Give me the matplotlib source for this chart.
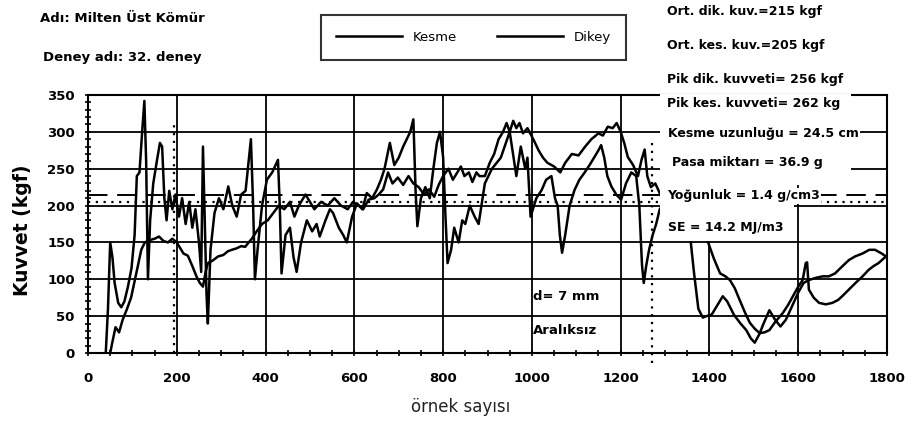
import numpy as np
import matplotlib
matplotlib.use("Agg")
import matplotlib.pyplot as plt
from matplotlib.patches import Rectangle
from matplotlib.lines import Line2D
from matplotlib.ticker import MultipleLocator

plt.rcParams["font.family"] = ["DejaVu Sans"]

# --- data ----------------------------------------------------------------
KESME_X = [40, 45, 50, 55, 60, 68, 75, 82, 90, 98, 105, 110, 116, 122, 127, 131, 135, 140,
           147, 155, 162, 167, 172, 177, 183, 190, 197, 205, 212, 220, 228, 235, 242, 250,
           255, 259, 263, 267, 270, 276, 285, 295, 305, 316, 325, 335, 345, 355, 362, 367,
           372, 376, 382, 392, 403, 415, 428, 432, 436, 445, 455, 463, 470, 480, 493, 505,
           515, 522, 535, 545, 552, 565, 575, 583, 595, 606, 618, 628, 640, 651, 660, 668,
           675, 680, 690, 700, 710, 718, 726, 733, 738, 742, 750, 760, 770, 778, 786, 793,
           800, 805, 810, 818, 825, 835, 843, 850, 860, 871, 880, 894, 910, 930, 950, 965,
           975, 985, 990, 997, 1010, 1022, 1032, 1044, 1052, 1058, 1063, 1068, 1075, 1085,
           1096, 1107, 1119, 1130, 1141, 1150, 1156, 1163, 1170, 1179, 1190, 1201, 1212,
           1224, 1235, 1242, 1248, 1252, 1258, 1264, 1272, 1280, 1288, 1300, 1320, 1340,
           1352, 1358, 1365, 1375, 1385, 1393, 1405, 1418, 1430, 1440, 1455, 1470, 1483,
           1493, 1502, 1512, 1522, 1535, 1548, 1560, 1572, 1585, 1600, 1612, 1624, 1640,
           1655, 1669, 1683, 1700, 1714, 1728, 1745, 1760, 1773, 1788, 1800]
KESME_Y = [0, 60, 150, 130, 95, 68, 62, 70, 90, 115, 160, 240, 245, 300, 342, 260, 100, 180,
           230, 260, 285, 280, 210, 180, 220, 195, 215, 185, 210, 175, 205, 170, 195, 150,
           110, 280, 180, 80, 40, 140, 190, 210, 195, 226, 200, 185, 215, 220, 260, 290,
           200, 100, 140, 200, 235, 245, 262, 200, 108, 160, 170, 130, 110, 150, 180, 165,
           175, 158, 180, 195, 190, 170, 160, 150, 185, 203, 195, 217, 210, 222, 235, 250,
           270, 285, 255, 265, 280, 290, 300, 317, 220, 172, 210, 225, 210, 250, 285, 300,
           266, 190, 122, 140, 170, 150, 180, 175, 200, 185, 175, 230, 250, 265, 300, 240,
           280, 250, 265, 185, 210, 221, 235, 240, 210, 200, 160, 136, 160, 200,
           221, 235, 245, 255, 266, 275, 282, 265, 240, 226, 215, 208, 230,
           245, 240, 200, 120, 95, 120, 140, 160, 175, 195, 205, 200, 185,
           165, 150, 110, 60, 48, 50, 52, 65, 77, 70, 52, 40, 31,
           20, 14, 25, 40, 58, 45, 36, 45, 62, 82, 95, 99, 102,
           104, 104, 108, 118, 126, 131, 135, 140, 140, 135, 130]

DIKEY_X = [50, 55, 62, 70, 78, 88, 97, 106, 113, 120, 128, 138, 150, 160, 170, 180, 190, 200,
           206, 215, 225, 235, 245, 252, 259, 265, 270, 280, 293, 305, 315, 324, 335, 345,
           354, 362, 369, 380, 392, 405, 420, 430, 442, 455, 465, 475, 490, 500, 510, 525,
           540, 555, 570, 585, 597, 610, 620, 632, 645, 655, 665, 676, 686, 698, 710, 722,
           733, 745, 757, 768, 780, 790, 800, 812, 822, 832, 840, 848, 858, 866, 875, 882,
           894, 905, 915, 925, 935, 943, 950, 958, 965, 972, 980, 990, 1004, 1015, 1025,
           1035, 1050, 1064, 1075, 1090, 1105, 1120, 1134, 1150, 1160, 1171, 1182, 1191,
           1200, 1208, 1216, 1228, 1239, 1247, 1254, 1260, 1268, 1278, 1291, 1310, 1330,
           1350, 1370, 1385, 1397, 1410, 1424, 1436, 1446, 1457, 1468, 1480, 1491, 1502,
           1513, 1524, 1535, 1548, 1565, 1577, 1588, 1600, 1610, 1617, 1620, 1624, 1635,
           1647, 1662, 1677, 1690, 1699, 1714, 1729, 1745, 1759, 1770, 1781, 1792, 1800]
DIKEY_Y = [0, 15, 35, 28, 45, 60, 75, 100, 120, 140, 150, 153, 155, 158, 152, 150, 155, 150,
           144, 135, 132, 118, 103, 95, 90, 110, 122, 125, 131, 133, 138, 140, 142, 145,
           144, 150, 155, 165, 175, 180, 192, 200, 195, 205, 185, 200, 215, 205, 195, 205,
           200, 210, 200, 195, 205, 200, 195, 208, 210, 215, 222, 245, 230, 238, 228, 240,
           230, 225, 215, 222, 212, 228, 240, 250, 235, 245, 253, 240, 245, 232, 245, 240,
           240, 258, 270, 290, 300, 312, 300, 315, 305, 312, 298, 305, 289, 275, 265,
           258, 253, 245, 258, 270, 268, 280, 290, 298, 295, 307, 305, 312,
           300, 285, 266, 255, 240, 262, 276, 240, 225, 230, 213, 215, 205,
           190, 170, 158, 150, 128, 108, 104, 99, 88, 72, 55, 41, 33,
           27, 28, 31, 42, 54, 65, 77, 90, 99, 122, 123, 86, 75,
           68, 66, 68, 72, 77, 86, 95, 104, 113, 118, 122, 128, 132]

ORT_DIK = 215   # dashed mean line
ORT_KES = 205   # dotted mean line
MARK_START = 193
MARK_END = 1270

INFO = ["Kesme uzunluğu = 24.5 cm", "Pasa miktarı = 36.9 g",
        "Yoğunluk = 1.4 g/cm3", "SE = 14.2 MJ/m3"]

W, H = 908, 430
fig = plt.figure(figsize=(W / 100, H / 100), dpi=100)
ax = fig.add_axes([88 / W, 1 - 353 / H, (887 - 88) / W, (353 - 95) / H])


def fx(px):
    return px / W


def fy(py):
    return 1 - py / H


lw = 1.8
ax.plot(KESME_X, KESME_Y, color="black", lw=lw, zorder=2)
ax.plot(DIKEY_X, DIKEY_Y, color="black", lw=lw, zorder=2)

ax.axhline(ORT_DIK, color="black", lw=1.4, ls=(0, (10, 5)), zorder=2)
ax.axhline(ORT_KES, color="black", lw=1.6, ls=(0, (1, 2.5)), zorder=2)
ax.plot([MARK_START, MARK_START], [0, 312], color="black", lw=1.6, ls=(0, (1, 2.5)), zorder=2)
ax.plot([MARK_END, MARK_END], [-14, 290], color="black", lw=1.6, ls=(0, (1, 2.5)),
        zorder=2, clip_on=False)

ax.set_xlim(0, 1800)
ax.set_ylim(0, 350)
ax.xaxis.set_major_locator(MultipleLocator(200))
ax.xaxis.set_minor_locator(MultipleLocator(50))
ax.yaxis.set_major_locator(MultipleLocator(50))
ax.yaxis.set_minor_locator(MultipleLocator(10))
ax.grid(True, which="major", color="black", lw=1.3)
ax.tick_params(which="both", direction="inout", width=1.2, colors="black")
ax.tick_params(which="major", length=5)
ax.tick_params(which="minor", length=4)
ax.tick_params(axis="x", which="major", pad=11, labelsize=9.5)
ax.tick_params(axis="y", which="major", pad=7, labelsize=9.5)
for lab in ax.get_xticklabels() + ax.get_yticklabels():
    lab.set_fontweight("bold")
for s in ax.spines.values():
    s.set_linewidth(1.5)

# white annotation box hiding the plot under the info texts
ax.add_patch(Rectangle((1288, 228), 430, 124, facecolor="white", edgecolor="none",
                       zorder=3, clip_on=False))
ax.add_patch(Rectangle((1288, 152), 302, 76, facecolor="white", edgecolor="none",
                       zorder=3, clip_on=False))

tb = dict(facecolor="white", edgecolor="none", pad=1.0)
for txt, px, py in [("Ort. dik. kuv.=215 kgf", 667, 12), ("Ort. kes. kuv.=205 kgf", 667, 45),
                    ("Pik dik. kuvveti= 256 kgf", 667, 80), ("Pik kes. kuvveti= 262 kg", 667, 103)]:
    fig.text(fx(px), fy(py), txt, fontsize=9, fontweight="bold", va="center", ha="left",
             bbox=tb, zorder=6)
for txt, px, py in zip(INFO, [668, 672, 667, 668], [133, 163, 196, 228]):
    fig.text(fx(px), fy(py), txt, fontsize=9, fontweight="bold", va="center", ha="left",
             bbox=tb, zorder=6)

fig.text(fx(40), fy(18), "Adı: Milten Üst Kömür", fontsize=9.5, fontweight="bold",
         va="center", ha="left")
fig.text(fx(43), fy(57), "Deney adı: 32. deney", fontsize=9.5, fontweight="bold",
         va="center", ha="left")

ax.text(1003, 76, "d= 7 mm", fontsize=9.5, fontweight="bold", va="center", ha="left")
ax.text(1003, 31, "Aralıksız", fontsize=9.5, fontweight="bold", va="center", ha="left")

fig.text(fx(23), fy(230), "Kuvvet (kgf)", fontsize=13.5, fontweight="bold", rotation=90,
         va="center", ha="center")
fig.text(fx(461), fy(407), "örnek sayısı", fontsize=12, color="#222222",
         va="center", ha="center")

handles = [Line2D([], [], color="black", lw=lw), Line2D([], [], color="black", lw=lw)]
leg = ax.legend(handles, ["Kesme", "Dikey"], loc="center",
                bbox_to_anchor=(fx(473.5), fy(37.5)), bbox_transform=fig.transFigure,
                ncol=2, frameon=True, fancybox=False, edgecolor="black", fontsize=9.5,
                handlelength=5.0, handletextpad=0.8, columnspacing=3.0, borderpad=1.2,
                borderaxespad=0)
leg.get_frame().set_linewidth(1.5)
leg.set_zorder(7)

fig.savefig("out.png", dpi=100)
